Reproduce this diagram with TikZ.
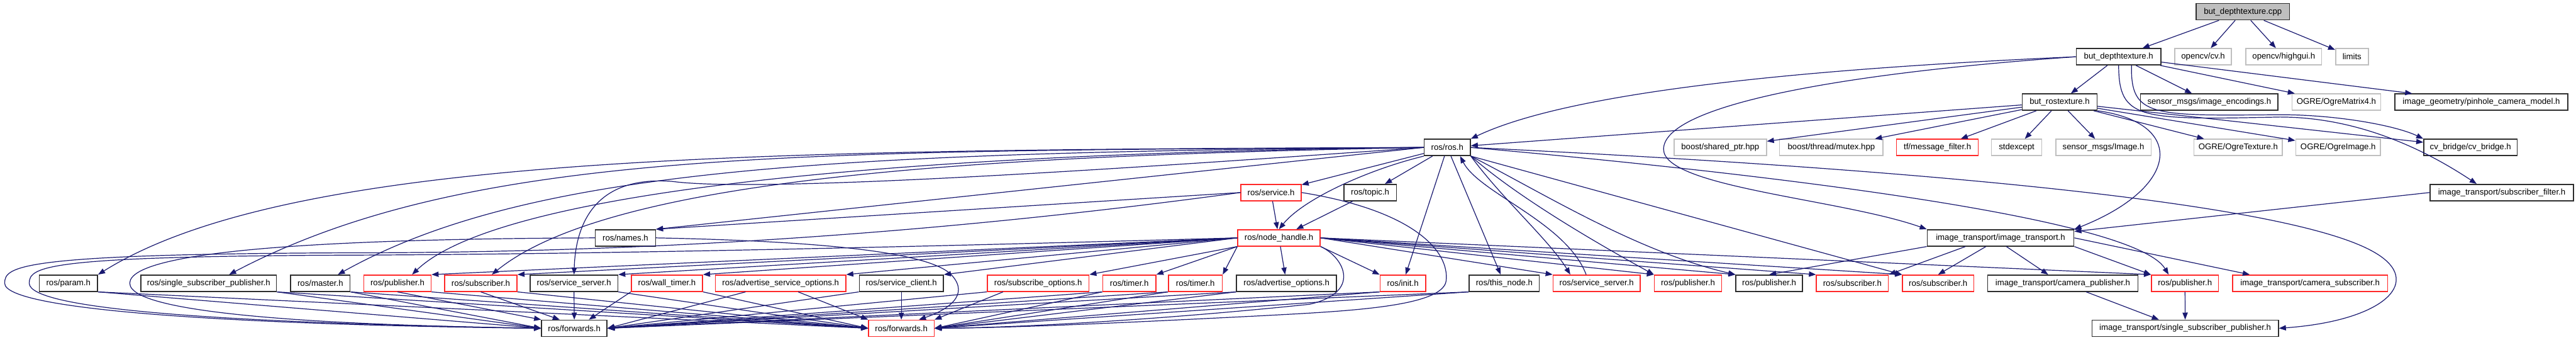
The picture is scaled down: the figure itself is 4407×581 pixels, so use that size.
\documentclass[tikz,border=0pt]{standalone}
\usepackage{fontspec}
\setmainfont{Liberation Sans}
\usetikzlibrary{arrows.meta,calc}
\definecolor{navy}{RGB}{25,25,112}
\definecolor{grey75}{RGB}{191,191,191}
\definecolor{boxred}{RGB}{255,40,40}
\definecolor{boxblack}{RGB}{45,45,45}
\begin{document}
\begin{tikzpicture}[x=1pt,y=-1pt,
  nb/.style={draw=boxblack, line width=1.6pt, fill=white, minimum height=28pt, inner sep=0pt, font=\fontsize{14.2}{16}\selectfont},
  kb/.style={nb},
  rb/.style={nb, draw=boxred},
  gb/.style={nb, draw=grey75},
  e/.style={draw=navy, line width=1.3pt, -{Triangle[length=12pt,width=9pt]}},
  ]
\useasboundingbox (0,0) rectangle (4407,581);
% row 0
\node[nb, fill=grey75, minimum width=160pt] (cpp) at (3837,20) {but\_depthtexture.cpp};
% row 1
\node[kb, minimum width=145pt] (dh) at (3624.5,97) {but\_depthtexture.h};
\node[gb, minimum width=97pt] (cv) at (3769,97) {opencv/cv.h};
\node[gb, minimum width=130pt] (hg) at (3907,97) {opencv/highgui.h};
\node[gb, minimum width=56pt] (lim) at (4023.7,97) {limits};
% row 2
\node[kb, minimum width=128pt] (rt) at (3523.6,174.5) {but\_rostexture.h};
\node[kb, minimum width=235pt] (enc) at (3779.5,174.5) {sensor\_msgs/image\_encodings.h};
\node[gb, minimum width=152pt] (mat4) at (3997,174.5) {OGRE/OgreMatrix4.h};
\node[kb, minimum width=296pt] (pin) at (4245,174.5) {image\_geometry/pinhole\_camera\_model.h};
% row 3
\node[kb, minimum width=79pt] (ros) at (2476,252) {ros/ros.h};
\node[gb, minimum width=158pt] (shp) at (2943,252) {boost/shared\_ptr.hpp};
\node[gb, minimum width=177pt] (mtx) at (3133,252) {boost/thread/mutex.hpp};
\node[rb, minimum width=140pt] (tf) at (3314.5,252) {tf/message\_filter.h};
\node[gb, minimum width=86pt] (stde) at (3450,252) {stdexcept};
\node[gb, minimum width=163pt] (img) at (3598.5,252) {sensor\_msgs/Image.h};
\node[gb, minimum width=151pt] (otex) at (3829,252) {OGRE/OgreTexture.h};
\node[gb, minimum width=145pt] (oimg) at (4000,252) {OGRE/OgreImage.h};
\node[kb, minimum width=160pt] (cvb) at (4226.5,252) {cv\_bridge/cv\_bridge.h};
% row 4
\node[rb, minimum width=103pt] (srv) at (2174.5,329) {ros/service.h};
\node[kb, minimum width=90pt] (topic) at (2344,329) {ros/topic.h};
\node[kb, minimum width=245pt] (sf) at (4280,329) {image\_transport/subscriber\_filter.h};
% row 5
\node[kb, minimum width=103pt] (names) at (1070,406.5) {ros/names.h};
\node[rb, minimum width=141pt] (nh) at (2188,406.5) {ros/node\_handle.h};
\node[kb, minimum width=251pt] (it) at (3422.5,406.5) {image\_transport/image\_transport.h};
% row 6
\node[kb, minimum width=100pt] (param) at (117,484) {ros/param.h};
\node[kb, minimum width=232pt] (ssp) at (357,484) {ros/single\_subscriber\_publisher.h};
\node[kb, minimum width=102pt] (master) at (548,484) {ros/master.h};
\node[rb, minimum width=115pt] (pubA) at (680,484) {ros/publisher.h};
\node[rb, minimum width=124pt] (subA) at (822.5,484) {ros/subscriber.h};
\node[kb, minimum width=150pt] (ssA) at (982,484) {ros/service\_server.h};
\node[rb, minimum width=122pt] (wt) at (1141,484) {ros/wall\_timer.h};
\node[rb, minimum width=223pt] (aso) at (1335.5,484) {ros/advertise\_service\_options.h};
\node[kb, minimum width=144pt] (sc) at (1542,484) {ros/service\_client.h};
\node[rb, minimum width=174pt] (so) at (1776,484) {ros/subscribe\_options.h};
\node[rb, minimum width=91pt] (tmA) at (1932,484) {ros/timer.h};
\node[rb, minimum width=92pt] (tmB) at (2045,484) {ros/timer.h};
\node[kb, minimum width=171pt] (ao) at (2201,484) {ros/advertise\_options.h};
\node[rb, minimum width=78pt] (init) at (2400,484) {ros/init.h};
\node[kb, minimum width=120pt] (thn) at (2573.5,484) {ros/this\_node.h};
\node[rb, minimum width=149pt] (ssB) at (2731.5,484) {ros/service\_server.h};
\node[rb, minimum width=115pt] (pubB) at (2887.7,484) {ros/publisher.h};
\node[kb, minimum width=114pt] (pubC) at (3026.7,484) {ros/publisher.h};
\node[rb, minimum width=123pt] (subB) at (3169,484) {ros/subscriber.h};
\node[rb, minimum width=122pt] (subC) at (3315.7,484) {ros/subscriber.h};
\node[kb, minimum width=257pt] (cpub) at (3529,484) {image\_transport/camera\_publisher.h};
\node[rb, minimum width=115pt] (pubD) at (3738,484) {ros/publisher.h};
\node[rb, minimum width=265pt] (csub) at (3952,484) {image\_transport/camera\_subscriber.h};
% row 7
\node[kb, minimum width=112pt] (fwdK) at (982.5,561) {ros/forwards.h};
\node[rb, minimum width=112pt] (fwdR) at (1542,561) {ros/forwards.h};
\node[kb, minimum width=319pt] (issp) at (3738.4,561) {image\_transport/single\_subscriber\_publisher.h};

% ---- edges: root
\draw[e] (cpp) -- (dh);
\draw[e] (cpp) -- (cv);
\draw[e] (cpp) -- (hg);
\draw[e] (cpp) -- (lim);
% but_depthtexture.h
\draw[e] (dh) -- (rt);
\draw[e] (dh) -- (enc);
\draw[e] (dh) -- (mat4);
\draw[e] (dh) -- (pin);
\draw[e] (dh.west) .. controls (3150,115) and (2700,150) .. (ros.north east);
\draw[e] (dh.west) .. controls (3150,125) and (2846,180) .. (2846,255) .. controls (2846,320) and (3150,340) .. (it.north west);
\draw[e] (dh.south) .. controls (3625,205) and (3660,205) .. (3900,200) .. controls (4050,200) and (4170,270) .. ($(sf.north)+(-43,0)$);
\draw[e] ($(dh.south)+(22,0)$) .. controls (3645,200) and (3680,198) .. (3900,196) .. controls (4000,196) and (4100,215) .. (cvb.north west);
% but_rostexture.h
\draw[e] (rt) -- (ros);
\draw[e] (rt) -- (shp);
\draw[e] (rt) -- (mtx);
\draw[e] (rt) -- (tf);
\draw[e] (rt) -- (stde);
\draw[e] (rt) -- (img);
\draw[e] (rt) -- (otex);
\draw[e] (rt) -- (oimg);
\draw[e] (rt) -- (cvb);
\draw[e] (rt.south east) .. controls (3740,210) and (3730,320) .. (it.north east);
% ros/ros.h
\draw[e] (ros) -- (srv);
\draw[e] (ros) -- (topic);
\draw[e] (ros.south west) .. controls (2340,290) and (2230,340) .. (nh.north);
\draw[e] (srv) -- (nh);
\draw[e] (topic) -- (nh);
\draw[e] (ros.west) -- (names.north east);
\draw[e] (srv.west) -- (names.north east);
\draw[e] (ros) -- (init);
\draw[e] (ros) -- (thn);
\draw[e] (ros.west) .. controls (1300,256) and (500,262) .. (param.north east);
\draw[e] (ros.west) .. controls (1350,258) and (800,255) .. ($(ssp.north)+(35,0)$);
\draw[e] (ros.west) .. controls (1400,260) and (900,290) .. ($(master.north)+(30,0)$);
\draw[e] (ros.west) .. controls (1500,262) and (850,330) .. ($(pubA.north)+(25,0)$);
\draw[e] (ros.west) .. controls (1700,266) and (1050,300) .. ($(subA.north)+(19,0)$);
\draw[e] (ros.west) .. controls (1900,290) and (1300,330) .. (1150,310) .. controls (1020,300) and (985,380) .. (ssA.north);
\draw[e] (ros.south east) .. controls (2570,340) and (2650,410) .. ($(ssB.north)+(-45,0)$);
\draw[e] ($(ssB.north)+(-18,0)$) .. controls (2680,380) and (2530,330) .. ($(ros.south)+(22,0)$);
\draw[e] (ros.south east) .. controls (2600,340) and (2740,420) .. (pubB.north west);
\draw[e] (ros.south east) .. controls (2640,330) and (2800,430) .. (pubC.north west);
\draw[e] (ros.south east) -- (subC.north west);
\draw[e] (ros.east) .. controls (3000,295) and (3650,370) .. ($(pubD.north)+(-28,0)$);
\draw[e] (ros.east) .. controls (3200,285) and (3900,340) .. (4060,430) .. controls (4150,480) and (4080,548) .. (issp.east);
% ros/node_handle.h
\draw[e] (nh.west) -- (pubA.north east);
\draw[e] (nh.west) -- (subA.north east);
\draw[e] (nh.west) -- (ssA.north east);
\draw[e] (nh.west) -- (wt.north east);
\draw[e] (nh.west) -- (aso.north east);
\draw[e] (nh.west) -- (sc.north east);
\draw[e] (nh.south west) -- (so.north east);
\draw[e] (nh.south west) -- (tmA.north east);
\draw[e] (nh.south west) -- (tmB.north east);
\draw[e] (nh) -- (ao);
\draw[e] (nh.south east) -- (init.north west);
\draw[e] (nh.east) -- (ssB.north west);
\draw[e] (nh.east) -- (pubB.north west);
\draw[e] (nh.east) -- (pubC.north west);
\draw[e] (nh.east) -- (subB.north west);
\draw[e] (nh.east) -- (subC.north west);
\draw[e] (nh.east) -- (pubD.north west);
% loops to ros/forwards.h
\draw[e] (names.west) .. controls (600,408) and (222,425) .. (222,484) .. controls (222,540) and (600,556) .. (fwdK.west);
\draw[e] (nh.west) .. controls (1700,418) and (1100,434) .. (600,436) .. controls (80,438) and (50,455) .. (50,484) .. controls (50,530) and (400,552) .. (fwdK.west);
\draw[e] (srv.west) .. controls (1600,400) and (1100,432) .. (600,432) .. controls (30,434) and (8,455) .. (8,484) .. controls (8,530) and (400,555) .. (fwdK.west);
\draw[e] (names.east) .. controls (1400,412) and (1590,430) .. (1628,470) .. controls (1660,505) and (1620,530) .. ($(fwdR.north)+(30,0)$);
\draw[e] (nh.south east) .. controls (2300,440) and (2330,500) .. (2240,520) .. controls (2000,545) and (1750,560) .. (fwdR.east);
\draw[e] (srv.east) .. controls (2420,360) and (2480,430) .. (2474,480) .. controls (2468,525) and (2300,532) .. (2150,540) .. controls (1950,550) and (1750,560) .. (fwdR.east);
% row 6 to forwards
\draw[e] (param.south east) -- (fwdK.west);
\draw[e] (param.south east) -- (fwdR.west);
\draw[e] (ssp.south east) -- (fwdK.west);
\draw[e] (ssp.south east) -- (fwdR.west);
\draw[e] (master.south east) -- (fwdK.west);
\draw[e] (master.south east) -- (fwdR.west);
\draw[e] (pubA.south) -- (fwdK.north west);
\draw[e] (pubA.south east) -- (fwdR.west);
\draw[e] (subA.south) -- ($(fwdK.north)+(-25,0)$);
\draw[e] (subA.south east) -- (fwdR.west);
\draw[e] (ssA.south) -- (fwdK.north);
\draw[e] (ssA.south east) -- (fwdR.west);
\draw[e] (wt.south west) -- ($(fwdK.north)+(25,0)$);
\draw[e] (wt.south east) -- (fwdR.west);
\draw[e] ($(aso.south)+(-60,0)$) -- (fwdK.east);
\draw[e] ($(aso.south)+(30,0)$) -- (fwdR.north west);
\draw[e] (sc.south west) -- (fwdK.east);
\draw[e] (sc.south) -- (fwdR.north);
\draw[e] (so.south west) -- (fwdK.east);
\draw[e] ($(so.south)+(-60,0)$) -- (fwdR.north east);
\draw[e] (tmA.south west) -- (fwdK.east);
\draw[e] (tmA.south west) -- (fwdR.east);
\draw[e] (tmB.south west) -- (fwdK.east);
\draw[e] (tmB.south west) -- (fwdR.east);
\draw[e] (ao.south west) -- (fwdK.east);
\draw[e] (ao.south west) -- (fwdR.east);
\draw[e] (init.south west) -- (fwdK.east);
\draw[e] (init.south west) -- (fwdR.east);
\draw[e] (thn.south west) -- (fwdK.east);
\draw[e] (thn.south west) -- (fwdR.east);
% image_transport.h
\draw[e] (it.south west) -- (pubC.north);
\draw[e] ($(it.south)+(-60,0)$) -- (subB.north east);
\draw[e] ($(it.south)+(-25,0)$) -- (subC.north);
\draw[e] ($(it.south)+(10,0)$) -- ($(cpub.north)+(-25,0)$);
\draw[e] (it.south east) -- (pubD.north west);
\draw[e] (it.east) -- ($(csub.north west)+(30,0)$);
\draw[e] (sf.west) -- (it.5);
% single subscriber publisher
\draw[e] ($(cpub.south)+(40,0)$) -- ($(issp.north)+(-45,0)$);
\draw[e] (pubD) -- (issp);
\end{tikzpicture}
\end{document}
